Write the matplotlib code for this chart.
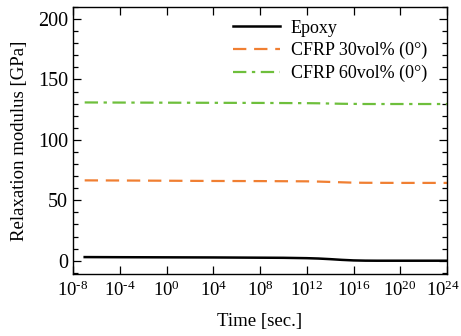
import numpy as np
import matplotlib.pyplot as plt
import matplotlib.transforms as mtransforms
from matplotlib.ticker import MultipleLocator, FixedLocator

# data (time in seconds, modulus in GPa)
EPOXY_T = [1e-7, 1e-4, 1e0, 1e4, 1e8, 1e10, 1e12, 1e13, 1e14, 1e15, 1e16, 1e17, 1e18, 1e20, 1e24]
EPOXY_E = [3.0, 2.9, 2.8, 2.7, 2.5, 2.4, 2.1, 1.8, 1.3, 0.7, 0.25, 0.05, 0.0, 0.0, 0.0]

CFRP30_T = [1e-7, 1e-4, 1e0, 1e4, 1e8, 1e12, 1e13, 1e14, 1e15, 1e16, 1e17, 1e20, 1e24]
CFRP30_E = [66.5, 66.4, 66.2, 66.0, 65.9, 65.7, 65.5, 65.2, 64.9, 64.6, 64.5, 64.4, 64.4]

CFRP60_T = [1e-7, 1e-4, 1e0, 1e4, 1e8, 1e12, 1e13, 1e14, 1e15, 1e16, 1e17, 1e20, 1e24]
CFRP60_E = [131.0, 130.9, 130.8, 130.7, 130.6, 130.4, 130.3, 130.1, 129.9, 129.8, 129.7, 129.7, 129.7]

LABELS = ['Epoxy', 'CFRP 30vol% (0°)', 'CFRP 60vol% (0°)']
X_TICKS = [1e-8, 1e-4, 1e0, 1e4, 1e8, 1e12, 1e16, 1e20, 1e24]

plt.rcParams['font.family'] = ['Liberation Serif', 'DejaVu Serif']
plt.rcParams['mathtext.fontset'] = 'custom'
plt.rcParams['mathtext.rm'] = 'Liberation Serif'
plt.rcParams['mathtext.it'] = 'Liberation Serif'

fig = plt.figure(figsize=(4.61, 3.36), dpi=100)
ax = fig.add_axes([73 / 461, 1 - 274 / 336, 374 / 461, 267 / 336])

ax.plot(EPOXY_T, EPOXY_E, color='black', linewidth=1.8, label=LABELS[0])
ax.plot(CFRP30_T, CFRP30_E, color='#f07f32', linewidth=1.6, dashes=(6, 3.5), label=LABELS[1])
ax.plot(CFRP60_T, CFRP60_E, color='#6ebf3c', linewidth=1.6, dashes=(6, 2.5, 1.5, 2.5), label=LABELS[2])

ax.set_xscale('log')
ax.set_xlim(1e-8, 1e24)
ax.set_ylim(-11, 210)
ax.xaxis.set_major_locator(FixedLocator(X_TICKS))
ax.xaxis.set_minor_locator(FixedLocator([]))
ax.set_xticks(X_TICKS)
# plain hyphen in the exponent, like the reference
ax.set_xticklabels([r'10$^{\text{%d}}$' % int(np.log10(t)) for t in X_TICKS], fontsize=13.5)
ax.yaxis.set_major_locator(MultipleLocator(50))
ax.yaxis.set_minor_locator(MultipleLocator(10))

ax.tick_params(which='both', direction='in', top=True, right=True, width=0.9)
ax.tick_params(axis='y', labelsize=14.5)
ax.tick_params(which='major', length=6)
ax.tick_params(which='minor', length=3.5)
ax.tick_params(axis='x', pad=5)
for s in ax.spines.values():
    s.set_linewidth(1.0)

# nudge the last tick label so it stays inside the canvas
last = ax.get_xticklabels()[-1]
last.set_transform(last.get_transform() + mtransforms.ScaledTranslation(-4 / 100, 0, fig.dpi_scale_trans))

ax.set_xlabel('Time [sec.]', fontsize=13.5, labelpad=9)
ax.set_ylabel('Relaxation modulus [GPa]', fontsize=13.5, labelpad=7)

ax.legend(loc='upper right', frameon=False, fontsize=13, handlelength=2.6,
          handletextpad=0.6, labelspacing=0.3, borderaxespad=0.3, bbox_to_anchor=(0.98, 1.0))

fig.savefig('out.png', dpi=100)
